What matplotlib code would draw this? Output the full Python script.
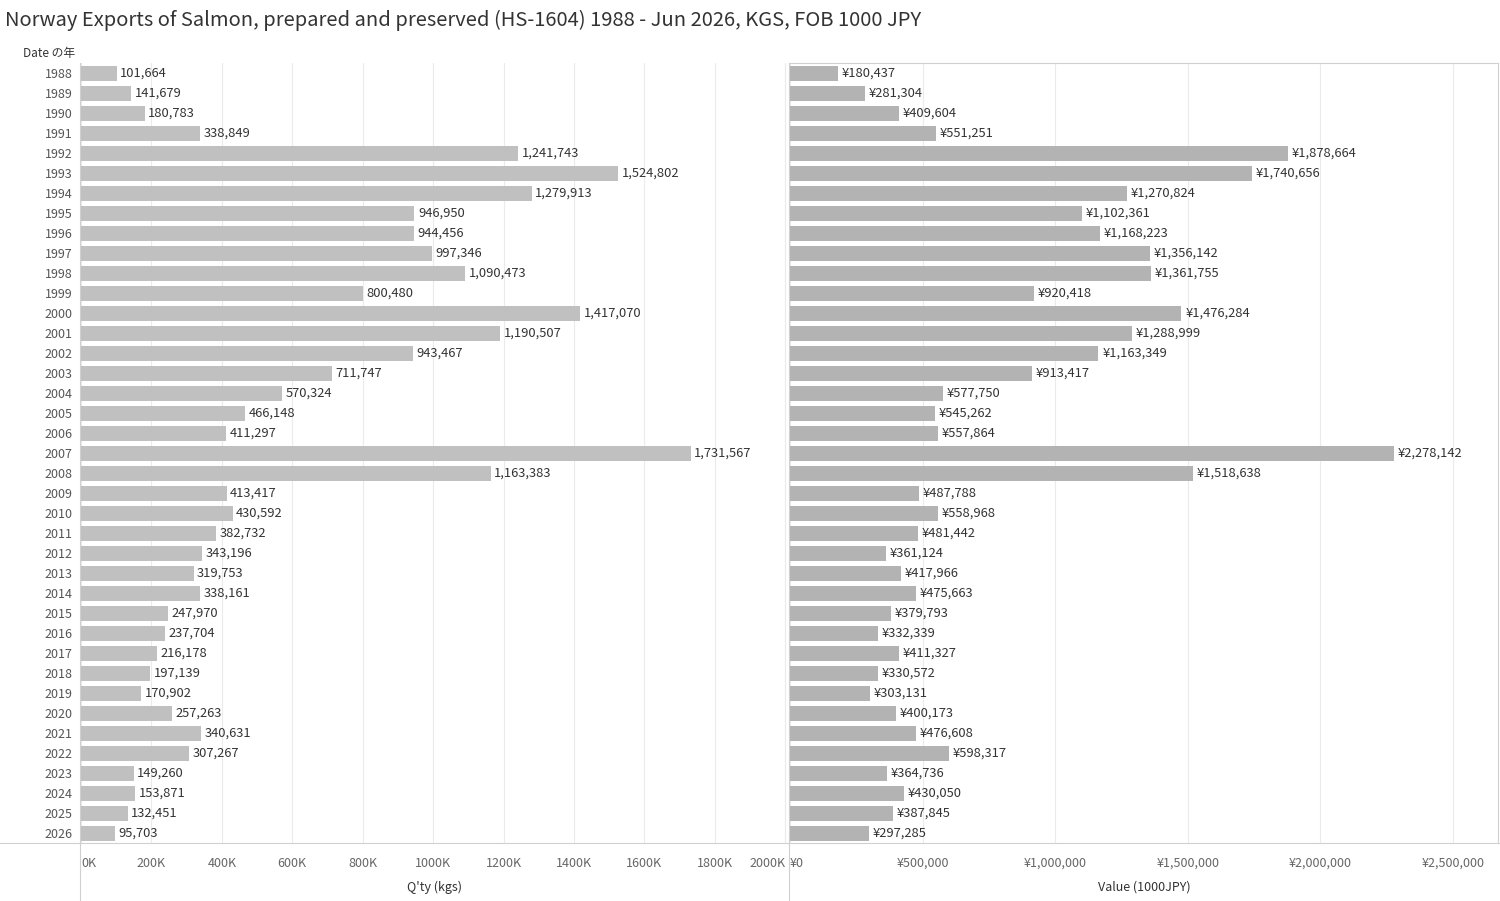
import matplotlib
matplotlib.use('Agg')
import matplotlib.pyplot as plt
from matplotlib.lines import Line2D
from matplotlib.ticker import FuncFormatter

plt.rcParams['font.family'] = ['Noto Sans CJK JP', 'DejaVu Sans']

years = list(range(1988, 2027))
qty = [101664, 141679, 180783, 338849, 1241743, 1524802, 1279913, 946950, 944456, 997346,
       1090473, 800480, 1417070, 1190507, 943467, 711747, 570324, 466148, 411297, 1731567,
       1163383, 413417, 430592, 382732, 343196, 319753, 338161, 247970, 237704, 216178,
       197139, 170902, 257263, 340631, 307267, 149260, 153871, 132451, 95703]
value = [180437, 281304, 409604, 551251, 1878664, 1740656, 1270824, 1102361, 1168223, 1356142,
         1361755, 920418, 1476284, 1288999, 1163349, 913417, 577750, 545262, 557864, 2278142,
         1518638, 487788, 558968, 481442, 361124, 417966, 475663, 379793, 332339, 411327,
         330572, 303131, 400173, 476608, 598317, 364736, 430050, 387845, 297285]

W, H = 1500, 901
fig = plt.figure(figsize=(15, 9.01), dpi=100)
fig.text(5 / W, 1 - 20 / H, 'Norway Exports of Salmon, prepared and preserved (HS-1604) 1988 - Jun 2026, KGS, FOB 1000 JPY',
         fontsize=14.5, color='#333333', va='center', ha='left')
fig.text(75 / W, 1 - 54 / H, 'Date の年', fontsize=8.5, color='#333333', va='center', ha='right')

top, bot = 63, 843
ax1 = fig.add_axes([81 / W, 1 - bot / H, 707 / W, (bot - top) / H])
ax2 = fig.add_axes([790 / W, 1 - bot / H, 708 / W, (bot - top) / H])

pos = list(range(len(years)))
ax1.barh(pos, qty, height=0.75, color='#c0c0c0', zorder=2)
ax2.barh(pos, value, height=0.75, color='#b3b3b3', zorder=2)
for p, q, v in zip(pos, qty, value):
    ax1.text(q + 10000, p, f'{q:,}', va='center', ha='left', fontsize=9.3, color='#333333')
    ax2.text(v + 14000, p, f'¥{v:,}', va='center', ha='left', fontsize=9.3, color='#333333')

ax1.set_xlim(0, 2008000)
ax2.set_xlim(0, 2670000)
ax1.set_xticks(range(0, 2000001, 200000))
ax1.xaxis.set_major_formatter(FuncFormatter(lambda x, _: f'{int(x / 1000)}K'))
ax2.set_xticks(range(0, 2500001, 500000))
ax2.xaxis.set_major_formatter(FuncFormatter(lambda x, _: f'¥{int(x):,}'))

for ax in (ax1, ax2):
    ax.set_ylim(len(years) - 0.5, -0.5)
    ax.grid(axis='x', color='#ebebeb', linewidth=0.8, zorder=0)
    ax.tick_params(axis='x', length=0, labelsize=9, labelcolor='#666666', pad=10)
    for s in ax.spines.values():
        s.set_visible(False)

fig.canvas.draw()
t1 = ax1.get_xticklabels()
t1[0].set_ha('left')
t1[-1].set_ha('right')
ax2.get_xticklabels()[0].set_ha('left')

ax2.set_yticks([])
ax1.set_yticks(pos)
ax1.set_yticklabels([str(y) for y in years])
ax1.tick_params(axis='y', length=0, labelsize=9, labelcolor='#555555', pad=6)
ax1.set_xlabel("Q'ty (kgs)", fontsize=9, color='#333333', labelpad=8)
ax2.set_xlabel('Value (1000JPY)', fontsize=9, color='#333333', labelpad=8)

lc = '#d0d0d0'
fig.add_artist(Line2D([0, 1], [1 - bot / H] * 2, color=lc, lw=0.8))
fig.add_artist(Line2D([80 / W] * 2, [0, 1 - 63 / H], color=lc, lw=0.8))
fig.add_artist(Line2D([789 / W] * 2, [0, 1 - 63 / H], color=lc, lw=0.8))
fig.add_artist(Line2D([1498 / W] * 2, [1 - bot / H, 1 - 63 / H], color=lc, lw=0.8))
fig.add_artist(Line2D([789 / W, 1498 / W], [1 - 63 / H] * 2, color=lc, lw=0.8))

fig.savefig('out.png', dpi=100)
